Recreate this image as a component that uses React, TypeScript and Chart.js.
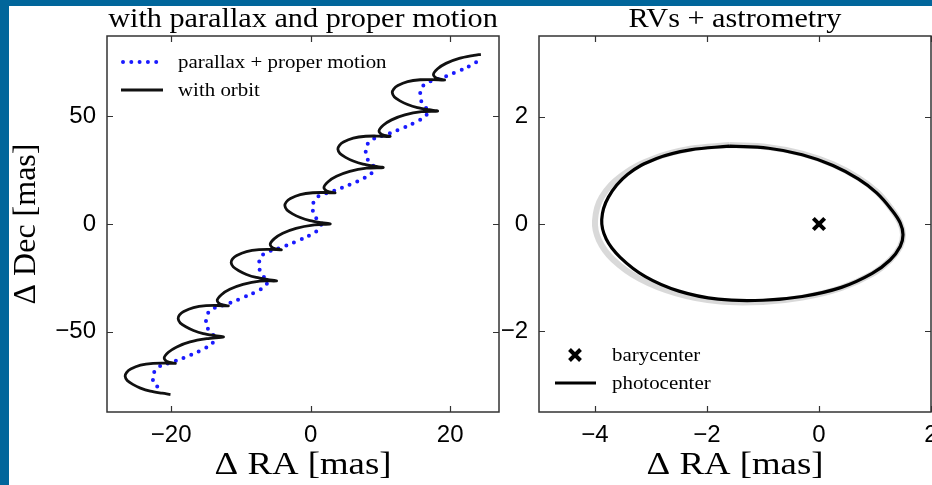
import React, { useEffect, useRef } from "react";
import { Chart, registerables } from "chart.js";

Chart.register(...registerables);

// ---------- data ----------
const pmTicksX = [-20, 0, 20];
const pmTicksY = [-50, 0, 50];
const orbTicksX = [-4, -2, 0, 2];
const orbTicksY = [-2, 0, 2];

const parallaxRA = [
  -22.0, -22.5, -22.6, -22.4, -21.7, -19.6, -17.2, -15.2, -14.1,
  -13.8, -14.4, -14.9, -15.0, -14.8, -14.1, -12.0, -9.6, -7.6, -6.5,
  -6.2, -6.8, -7.3, -7.4, -7.2, -6.5, -4.4, -2.0, 0.0, 1.1,
  1.5, 0.9, 0.4, 0.3, 0.5, 1.2, 3.3, 5.7, 7.7, 8.8,
  9.1, 8.5, 8.0, 7.9, 8.1, 8.8, 10.9, 13.3, 15.3, 16.4,
  16.9, 16.3, 15.8, 15.7, 15.9, 16.6, 18.7, 21.1, 23.1, 24.2,
];
const parallaxDec = [
  -75.4, -74.1, -71.1, -68.5, -66.1, -63.8, -60.7, -57.7, -55.3,
  -52.4, -50.2, -47.4, -44.4, -41.8, -39.4, -37.1, -34.0, -31.0, -28.6,
  -26.4, -24.2, -21.4, -18.4, -15.8, -13.4, -11.1, -8.0, -5.0, -2.6,
  0.0, 2.2, 5.0, 8.0, 10.6, 13.0, 15.3, 18.4, 21.4, 23.8,
  26.2, 28.4, 31.2, 34.2, 36.8, 39.2, 41.5, 44.6, 47.6, 50.0,
  52.4, 54.6, 57.4, 60.4, 63.0, 65.4, 67.7, 70.8, 73.8, 76.2,
];

const orbitRA = [
  -20.1, -21.3, -23.0, -24.4, -25.5, -26.3, -26.6, -26.4, -25.8, -24.4, -22.6, -20.9, -19.4, -20.6, -21.0, -20.4, -19.2, -17.3, -14.9,
  -12.5, -13.7, -15.4, -16.8, -17.9, -18.7, -19.0, -18.8, -18.2, -16.8, -15.0, -13.3, -11.8, -13.0, -13.4, -12.8, -11.6, -9.7, -7.3,
  -4.9, -6.1, -7.8, -9.2, -10.3, -11.1, -11.4, -11.2, -10.6, -9.2, -7.4, -5.7, -4.2, -5.4, -5.8, -5.2, -4.0, -2.1, 0.3,
  2.8, 1.6, -0.1, -1.5, -2.6, -3.4, -3.7, -3.5, -2.9, -1.5, 0.3, 2.0, 3.5, 2.3, 1.9, 2.5, 3.7, 5.6, 8.0,
  10.4, 9.2, 7.5, 6.1, 5.0, 4.2, 3.9, 4.1, 4.7, 6.1, 7.9, 9.6, 11.4, 10.2, 9.8, 10.4, 11.6, 13.5, 15.9,
  18.2, 17.0, 15.3, 13.9, 12.8, 12.0, 11.7, 11.9, 12.5, 13.9, 15.7, 17.4, 19.2, 18.0, 17.6, 18.2, 19.4, 21.3, 23.4, 24.4,
];
const orbitDec = [
  -79.1, -78.5, -77.5, -76.1, -74.4, -72.6, -70.6, -68.9, -67.3, -65.5, -64.6, -64.5, -64.7, -63.8, -62.1, -59.5, -57.0, -54.7, -53.2,
  -52.4, -51.8, -50.8, -49.4, -47.7, -45.9, -43.9, -42.2, -40.6, -38.8, -37.9, -37.8, -38.0, -37.1, -35.4, -32.8, -30.3, -28.0, -26.5,
  -26.4, -25.8, -24.8, -23.4, -21.7, -19.9, -17.9, -16.2, -14.6, -12.8, -11.9, -11.8, -12.0, -11.1, -9.4, -6.8, -4.3, -2.0, -0.5,
  0.0, 0.6, 1.6, 3.0, 4.7, 6.5, 8.5, 10.2, 11.8, 13.6, 14.5, 14.6, 14.4, 15.3, 17.0, 19.6, 22.1, 24.4, 25.9,
  26.2, 26.8, 27.8, 29.2, 30.9, 32.7, 34.7, 36.4, 38.0, 39.8, 40.7, 40.8, 40.6, 41.5, 43.2, 45.8, 48.3, 50.6, 52.1,
  52.4, 53.0, 54.0, 55.4, 57.1, 58.9, 60.9, 62.6, 64.2, 66.0, 66.9, 67.0, 66.8, 67.7, 69.4, 72.0, 74.5, 76.8, 78.2, 78.7,
];

// photocenter orbit (main) and the outer grey posterior draws, read clockwise from the top
const photoRA = [
  -1.6, -0.9, -0.3, 0.25, 0.7, 1.03, 1.3, 1.45, 1.5, 1.45, 1.27, 0.95, 0.4,
  -0.3, -1.0, -1.8, -2.5, -3.1, -3.55, -3.8, -3.88, -3.76, -3.42, -2.9, -2.3, -1.6,
];
const photoDec = [
  1.45, 1.41, 1.29, 1.09, 0.84, 0.58, 0.26, 0.02, -0.2, -0.42, -0.67, -0.92, -1.18,
  -1.35, -1.42, -1.4, -1.25, -0.98, -0.62, -0.28, 0.08, 0.5, 0.92, 1.22, 1.38, 1.45,
];
const photoAltRA = [
  -1.6, -0.9, -0.3, 0.25, 0.7, 1.03, 1.3, 1.45, 1.5, 1.45, 1.27, 0.95, 0.4,
  -0.3, -1.0, -1.8, -2.55, -3.2, -3.68, -3.93, -4.0, -3.88, -3.5, -2.95, -2.3, -1.6,
];
const photoAltDec = [
  1.47, 1.43, 1.31, 1.11, 0.86, 0.6, 0.27, 0.02, -0.2, -0.42, -0.67, -0.93, -1.19,
  -1.37, -1.45, -1.44, -1.29, -1.02, -0.66, -0.3, 0.06, 0.5, 0.92, 1.22, 1.4, 1.47,
];
const baryRA = [0];
const baryDec = [0];

// ---------- helpers ----------
const zip = (xs: number[], ys: number[]) => xs.map((x, i) => ({ x, y: ys[i] }));
const fmt = (v: any) => String(v).replace("-", "\u2212");
const SERIF = "'Liberation Serif', 'DejaVu Serif', serif";
const SANS = "'Liberation Sans', Arial, sans-serif";
const tickFont = { family: SANS, size: 24 };

function wideText(ctx: any, text: string, x: number, y: number, sx: number, align: string) {
  ctx.save();
  ctx.translate(x, y);
  ctx.scale(sx, 1);
  ctx.textAlign = align;
  ctx.fillText(text, 0, 0);
  ctx.restore();
}

const framePlugin = {
  id: "frame",
  afterDraw(chart: any, _args: any, opts: any) {
    const { ctx, chartArea: a, scales } = chart;
    ctx.save();
    ctx.strokeStyle = "#333";
    ctx.lineWidth = 1.5;
    ctx.strokeRect(a.left, a.top, a.right - a.left, a.bottom - a.top);
    const tl = 6;
    ctx.beginPath();
    scales.x.ticks.forEach((t: any) => {
      const p = Math.round(scales.x.getPixelForValue(t.value)) + 0.5;
      ctx.moveTo(p, a.bottom); ctx.lineTo(p, a.bottom - tl);
      ctx.moveTo(p, a.top); ctx.lineTo(p, a.top + tl);
    });
    scales.y.ticks.forEach((t: any) => {
      const p = Math.round(scales.y.getPixelForValue(t.value)) + 0.5;
      ctx.moveTo(a.left, p); ctx.lineTo(a.left + tl, p);
      ctx.moveTo(a.right, p); ctx.lineTo(a.right - tl, p);
    });
    ctx.lineWidth = 1.2;
    ctx.stroke();

    const cx = (a.left + a.right) / 2;
    ctx.fillStyle = "#000";
    ctx.textBaseline = "alphabetic";
    ctx.font = `27px ${SERIF}`;
    wideText(ctx, opts.title, cx, a.top - 9, 1.12, "center");
    ctx.font = `32px ${SERIF}`;
    wideText(ctx, opts.xlabel, cx, a.bottom + 62, 1.15, "center");
    if (opts.ylabel) {
      ctx.save();
      ctx.translate(a.left - 72, (a.top + a.bottom) / 2);
      ctx.rotate(-Math.PI / 2);
      ctx.textAlign = "center";
      ctx.fillText(opts.ylabel, 0, 0);
      ctx.restore();
    }
    ctx.font = `19px ${SERIF}`;
    if (opts.legend === "pm") {
      const y1 = a.top + 26, y2 = a.top + 54;
      ctx.save();
      ctx.strokeStyle = "#1a1aff";
      ctx.lineWidth = 4;
      ctx.lineCap = "round";
      ctx.setLineDash([0, 8.3]);
      ctx.beginPath(); ctx.moveTo(a.left + 16, y1); ctx.lineTo(a.left + 56, y1); ctx.stroke();
      ctx.restore();
      ctx.strokeStyle = "#111";
      ctx.lineWidth = 2.8;
      ctx.beginPath(); ctx.moveTo(a.left + 14, y2); ctx.lineTo(a.left + 56, y2); ctx.stroke();
      wideText(ctx, "parallax + proper motion", a.left + 71, y1 + 6, 1.1, "left");
      wideText(ctx, "with orbit", a.left + 71, y2 + 6, 1.1, "left");
    } else if (opts.legend === "orb") {
      const y1 = a.bottom - 57, y2 = a.bottom - 29;
      const mx = a.left + 36, r = 5.5;
      ctx.strokeStyle = "#000";
      ctx.lineWidth = 4;
      ctx.beginPath();
      ctx.moveTo(mx - r, y1 - r); ctx.lineTo(mx + r, y1 + r);
      ctx.moveTo(mx + r, y1 - r); ctx.lineTo(mx - r, y1 + r);
      ctx.stroke();
      ctx.lineWidth = 2.8;
      ctx.beginPath(); ctx.moveTo(a.left + 16, y2); ctx.lineTo(a.left + 57, y2); ctx.stroke();
      wideText(ctx, "barycenter", a.left + 73, y1 + 6, 1.1, "left");
      wideText(ctx, "photocenter", a.left + 73, y2 + 6, 1.1, "left");
    }
    ctx.restore();
  },
};

function axes(xmin: number, xmax: number, ymin: number, ymax: number, tx: number[], ty: number[], yw: number) {
  return {
    x: {
      type: "linear",
      min: xmin,
      max: xmax,
      afterBuildTicks: (s: any) => { s.ticks = tx.map((v) => ({ value: v })); },
      afterFit: (s: any) => { s.height = 73; },
      grid: { display: false, drawTicks: false },
      border: { display: false },
      ticks: { font: tickFont, color: "#000", padding: 9, callback: fmt, maxRotation: 0, autoSkip: false },
    },
    y: {
      type: "linear",
      min: ymin,
      max: ymax,
      afterBuildTicks: (s: any) => { s.ticks = ty.map((v) => ({ value: v })); },
      afterFit: (s: any) => { s.width = yw; },
      grid: { display: false, drawTicks: false },
      border: { display: false },
      ticks: { font: tickFont, color: "#000", padding: 11, callback: fmt, autoSkip: false },
    },
  };
}

function LeftPanel() {
  const ref = useRef<HTMLCanvasElement>(null);
  useEffect(() => {
    const chart = new Chart(ref.current as HTMLCanvasElement, {
      type: "scatter",
      data: {
        datasets: [
          {
            label: "parallax + proper motion",
            data: zip(parallaxRA, parallaxDec),
            showLine: true,
            borderColor: "#1a1aff",
            borderWidth: 4,
            borderDash: [0, 8.3],
            borderCapStyle: "round",
            pointRadius: 0,
            tension: 0.4,
            order: 2,
          } as any,
          {
            label: "with orbit",
            data: zip(orbitRA, orbitDec),
            showLine: true,
            borderColor: "#111",
            borderWidth: 2.8,
            borderJoinStyle: "round",
            pointRadius: 0,
            tension: 0.3,
            order: 1,
          } as any,
        ],
      },
      options: {
        animation: false,
        responsive: false,
        events: [],
        layout: { padding: { left: 0, right: 21, top: 36, bottom: 0 } },
        plugins: {
          legend: { display: false },
          tooltip: { enabled: false },
          frame: { title: "with parallax and proper motion", xlabel: "\u0394 RA [mas]", ylabel: "\u0394 Dec [mas]", legend: "pm" },
        } as any,
        scales: axes(-29.2, 27, -87.2, 87.2, pmTicksX, pmTicksY, 107) as any,
      },
      plugins: [framePlugin],
    });
    return () => chart.destroy();
  }, []);
  return <canvas ref={ref} width={520} height={485} style={{ position: "absolute", left: 0, top: 0 }} />;
}

function RightPanel() {
  const ref = useRef<HTMLCanvasElement>(null);
  useEffect(() => {
    const chart = new Chart(ref.current as HTMLCanvasElement, {
      type: "scatter",
      data: {
        datasets: [
          {
            label: "barycenter",
            data: zip(baryRA, baryDec),
            pointStyle: "crossRot",
            pointRadius: 8,
            borderWidth: 4,
            borderColor: "#000",
            order: 0,
          } as any,
          {
            label: "photocenter",
            data: zip(photoRA, photoDec),
            showLine: true,
            borderColor: "#000",
            borderWidth: 3.2,
            pointRadius: 0,
            tension: 0.4,
            order: 1,
          } as any,
          {
            label: "draws",
            data: zip(photoAltRA, photoAltDec),
            showLine: true,
            borderColor: "rgba(0,0,0,0.15)",
            borderWidth: 6,
            pointRadius: 0,
            tension: 0.4,
            order: 2,
          } as any,
        ],
      },
      options: {
        animation: false,
        responsive: false,
        events: [],
        layout: { padding: { left: 0, right: 69, top: 36, bottom: 0 } },
        plugins: {
          legend: { display: false },
          tooltip: { enabled: false },
          frame: { title: "RVs + astrometry", xlabel: "\u0394 RA [mas]", ylabel: null, legend: "orb" },
        } as any,
        scales: axes(-5, 2, -3.5, 3.5, orbTicksX, orbTicksY, 59) as any,
      },
      plugins: [framePlugin],
    });
    return () => chart.destroy();
  }, []);
  return <canvas ref={ref} width={520} height={485} style={{ position: "absolute", left: 480, top: 0 }} />;
}

export default function App() {
  return (
    <div style={{ position: "absolute", left: 0, top: 0, width: 932, height: 485, overflow: "hidden", background: "#01669b" }}>
      <div style={{ position: "absolute", left: 9, top: 6, right: 0, bottom: 0, background: "#fff" }} />
      <LeftPanel />
      <RightPanel />
    </div>
  );
}
